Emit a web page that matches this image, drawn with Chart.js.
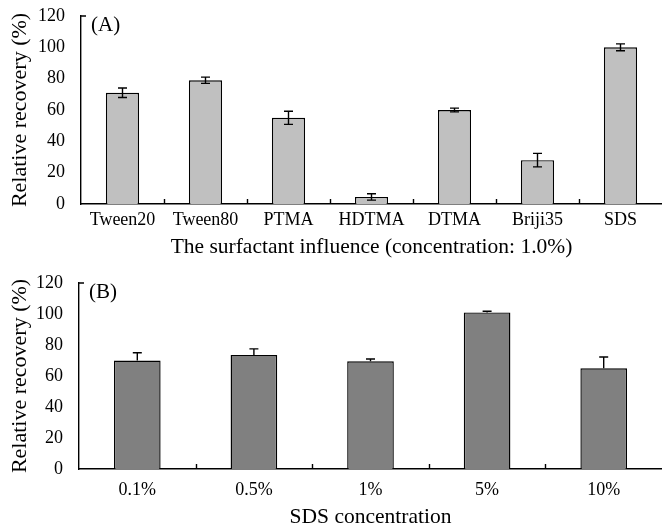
<!DOCTYPE html>
<html>
<head>
<meta charset="utf-8">
<script src="https://cdn.jsdelivr.net/npm/chart.js@4.4.0/dist/chart.umd.min.js"></script>
<style>
  html, body { margin: 0; padding: 0; background: #fff; }
  body { width: 662px; height: 528px; overflow: hidden; position: relative; }
  #chartA { position: absolute; left: 0; top: 0; }
  #chartB { position: absolute; left: 0; top: 270px; }
</style>
</head>
<body>
<canvas id="chartA" width="662" height="270"></canvas>
<canvas id="chartB" width="662" height="262"></canvas>
<script>
// panel A: surfactant type at 1.0%
const surfactants = ['Tween20', 'Tween80', 'PTMA', 'HDTMA', 'DTMA', 'Briji35', 'SDS'];
const recoveryA = [71, 79, 55, 4.5, 60, 28, 100];
const errorA = [3, 2, 4.2, 2, 1.2, 4.3, 2.2];

// panel B: SDS concentration
const sdsLevels = ['0.1%', '0.5%', '1%', '5%', '10%'];
const recoveryB = [70, 73.5, 69.5, 101, 65];
const errorB = [5, 4, 1.5, 0.8, 7.3];

const FONT = "'Liberation Serif', 'Times New Roman', serif";

const errorBars = {
    id: 'errorBars',
    afterDatasetsDraw(chart, args, opts) {
        const { ctx } = chart;
        const y = chart.scales.y;
        const meta = chart.getDatasetMeta(0);
        const vals = chart.data.datasets[0].data;
        const cap = opts.cap;
        ctx.save();
        ctx.strokeStyle = '#000';
        ctx.lineWidth = 1.4;
        meta.data.forEach((bar, i) => {
            const v = vals[i], e = opts.errors[i];
            const top = y.getPixelForValue(v + e);
            const bot = opts.upperOnly ? y.getPixelForValue(v) : y.getPixelForValue(v - e);
            ctx.beginPath();
            ctx.moveTo(bar.x, top);
            ctx.lineTo(bar.x, bot);
            ctx.moveTo(bar.x - cap, top);
            ctx.lineTo(bar.x + cap, top);
            if (!opts.upperOnly) {
                ctx.moveTo(bar.x - cap, bot);
                ctx.lineTo(bar.x + cap, bot);
            }
            ctx.stroke();
        });
        ctx.restore();
    }
};

// small inward tick marks between categories, a stub at the y max, and the panel tag
const frame = {
    id: 'frame',
    afterDraw(chart, args, opts) {
        const { ctx, chartArea } = chart;
        const x = chart.scales.x;
        ctx.save();
        ctx.strokeStyle = '#000';
        ctx.lineWidth = 1.4;
        ctx.beginPath();
        for (let i = 1; i < chart.data.labels.length; i++) {
            const px = Math.round((x.getPixelForValue(i - 1) + x.getPixelForValue(i)) / 2) + 0.5;
            ctx.moveTo(px, chartArea.bottom);
            ctx.lineTo(px, chartArea.bottom - 5);
        }
        ctx.moveTo(chartArea.left, chartArea.top);
        ctx.lineTo(chartArea.left + 5, chartArea.top);
        ctx.stroke();
        ctx.fillStyle = '#000';
        ctx.font = '21px ' + FONT;
        ctx.textBaseline = 'middle';
        ctx.fillText(opts.tag, chartArea.left + 10, chartArea.top + 9);
        ctx.restore();
    }
};

function makeChart(id, labels, values, errors, color, opt) {
    return new Chart(document.getElementById(id), {
        type: 'bar',
        data: {
            labels: labels,
            datasets: [{
                data: values,
                backgroundColor: color,
                borderColor: '#000',
                borderWidth: 1.4,
                barPercentage: 0.4,
                categoryPercentage: 1.0
            }]
        },
        options: {
            responsive: false,
            animation: false,
            layout: { autoPadding: false, padding: { top: opt.top, bottom: opt.bottom, left: 0, right: 0 } },
            plugins: {
                legend: { display: false },
                tooltip: { enabled: false },
                errorBars: { errors: errors, cap: 4.5, upperOnly: opt.upperOnly },
                frame: { tag: opt.tag }
            },
            scales: {
                x: {
                    offset: true,
                    grid: { display: false, drawTicks: false },
                    border: { display: true, color: '#000', width: 1.4 },
                    ticks: { color: '#000', font: { family: FONT, size: 18 }, padding: opt.xPad, maxRotation: 0 },
                    title: {
                        display: true,
                        text: opt.xTitle,
                        color: '#000',
                        font: { family: FONT, size: 21.5 },
                        padding: { top: 0, bottom: 0 }
                    },
                    afterFit(scale) { scale.height = opt.xHeight; }
                },
                y: {
                    min: 0,
                    max: 120,
                    grid: { display: false, drawTicks: false },
                    border: { display: true, color: '#000', width: 1.4 },
                    ticks: { stepSize: 20, color: '#000', font: { family: FONT, size: 18 }, padding: 16 },
                    title: {
                        display: true,
                        text: 'Relative recovery (%)',
                        color: '#000',
                        font: { family: FONT, size: 22 },
                        padding: { top: 7, bottom: 0 }
                    },
                    afterFit(scale) {
                        scale.width = opt.yWidth;
                        // tick padding would otherwise push the plot top down
                        scale.paddingTop = 0;
                        scale.paddingBottom = 0;
                    }
                }
            }
        },
        plugins: [errorBars, frame]
    });
}

makeChart('chartA', surfactants, recoveryA, errorA, '#c0c0c0', {
    tag: '(A)', top: 16, bottom: 10, xHeight: 56, xPad: 5, yWidth: 81, upperOnly: false,
    xTitle: 'The surfactant influence (concentration: 1.0%)'
});

makeChart('chartB', sdsLevels, recoveryB, errorB, '#808080', {
    tag: '(B)', top: 13, bottom: 2, xHeight: 61, xPad: 10, yWidth: 79, upperOnly: true,
    xTitle: 'SDS concentration'
});
</script>
</body>
</html>
